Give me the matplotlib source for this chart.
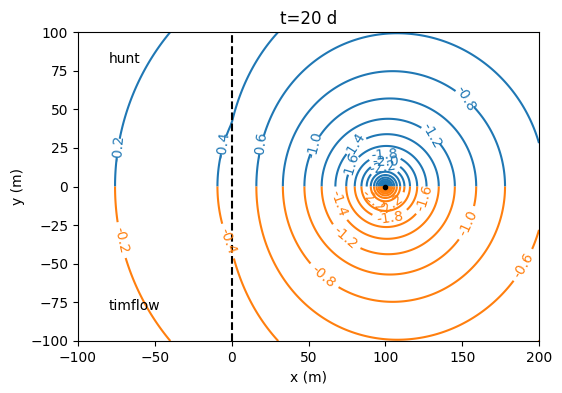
import numpy as np
import matplotlib
matplotlib.use('Agg')
import matplotlib.pyplot as plt

# ==================== 모델 값 ====================
T = 100.0          # transmissivity (m2/d)
S = 0.1            # storage
Q = 500.0          # pumping rate (m3/d)
lab = 1.0          # stream leakance (m/d)
L = 100.0          # distance well - stream (m)
t = 20.0           # time (d)
levels = np.arange(-4, 0, 0.2)
xlims = [-100, 200]
ylims = [-100, 100]

# label spots (as in the reference)
lab_top = [(-75, 25), (-8, 27), (18, 27), (53, 27), (78, 27), (75, 14),
           (153, 57), (130, 33), (99, 22), (100, 17), (98, 13)]
lab_bot = [(-73, -35), (-4, -36), (70, -11), (75, -32), (60, -58), (125, -7),
           (154, -24), (190, -51), (92, -9), (104, -13), (103, -18)]


def exp1(u):
    u = np.asarray(u, dtype=float)
    out = np.empty_like(u)
    small = u <= 1
    us = u[small]
    out[small] = (-np.log(us) - 0.57721566 + 0.99999193 * us - 0.24991055 * us**2
                  + 0.05519968 * us**3 - 0.00976004 * us**4 + 0.00107857 * us**5)
    ub = u[~small]
    num = ub**2 + 2.334733 * ub + 0.250621
    den = ub**2 + 3.330657 * ub + 1.681534
    out[~small] = np.exp(-ub) / ub * num / den
    return out


def hunt(x, y):
    th, w = np.polynomial.laguerre.laggauss(30)
    a = S / (4 * T * t)
    s = exp1(((x - L)**2 + y**2) * a)
    img = np.zeros_like(x)
    for thi, wi in zip(th, w):
        img += wi * exp1(((np.abs(x) + L + 2 * T * thi / lab)**2 + y**2) * a)
    return -Q / (4 * np.pi * T) * (s - img)


x = np.linspace(xlims[0], xlims[1], 300)
ytop = np.linspace(0, ylims[1], 150)
ybot = np.linspace(ylims[0], 0, 150)
X1, Y1 = np.meshgrid(x, ytop)
X2, Y2 = np.meshgrid(x, ybot)
h1 = hunt(X1, Y1)
h2 = hunt(X2, Y2)

fig = plt.figure(figsize=(5.62, 3.93), dpi=100)
ax = fig.add_axes([78 / 562, 1 - 341 / 393, 461 / 562, 309 / 393])
cs1 = ax.contour(X1, Y1, h1, levels, colors='C0', linestyles='solid')
ax.clabel(cs1, fmt='%1.1f', manual=lab_top)
cs2 = ax.contour(X2, Y2, h2, levels, colors='C1', linestyles='solid')
ax.clabel(cs2, fmt='%1.1f', manual=lab_bot)
ax.axvline(0, color='k', ls='--')
ax.plot(L, 0, 'k.')
ax.text(-80, 80, 'hunt')
ax.text(-80, -80, 'timflow')
ax.set_xlim(xlims)
ax.set_ylim(ylims)
ax.set_xlabel('x (m)')
ax.set_ylabel('y (m)')
ax.set_title('t=20 d')
fig.savefig('out.png', dpi=100)
